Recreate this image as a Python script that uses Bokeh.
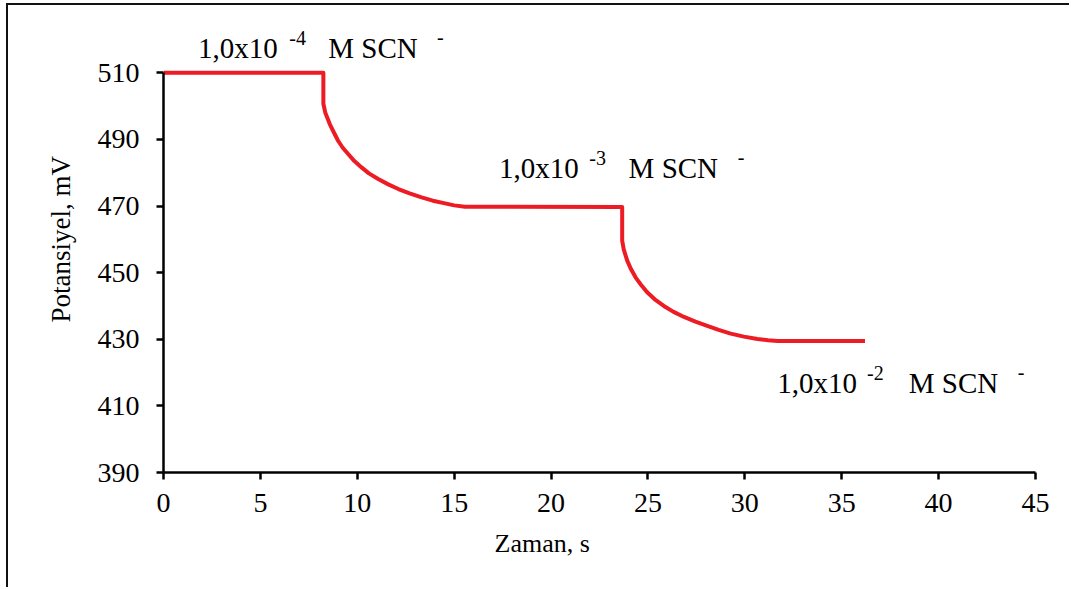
from bokeh.plotting import figure
from bokeh.models import Range1d, FixedTicker, Label, Title
from bokeh.embed import file_html
from bokeh.resources import INLINE

# ---- data ----
time_s = [0, 8.25, 8.25, 8.35, 8.58, 8.8, 9.01, 9.25, 9.53, 9.85, 10.22, 10.6, 11.08, 11.6,
          12.12, 12.7, 13.32, 13.9, 14.53, 15.0, 15.56,
          23.67, 23.67, 23.75, 23.93, 24.13, 24.36, 24.65, 24.96, 25.35, 25.82, 26.3, 26.86,
          27.45, 28.06, 28.65, 29.27, 29.95, 30.65, 31.2, 31.69, 36.2]
potential_mv = [510, 510, 500.7, 498.0, 494.6, 492.0, 489.6, 487.5, 485.6, 483.5, 481.6, 479.8,
                478.1, 476.5, 475.1, 473.8, 472.6, 471.6, 470.8, 470.2, 469.8,
                469.7, 459.6, 457.0, 453.6, 451.0, 448.6, 446.3, 444.1, 442.0, 440.0, 438.3,
                436.7, 435.3, 434.0, 432.8, 431.7, 430.8, 430.1, 429.7, 429.5, 429.5]

x_ticks = [0, 5, 10, 15, 20, 25, 30, 35, 40, 45]
y_ticks = [390, 410, 430, 450, 470, 490, 510]

ann_base = ["1,0x10", "1,0x10", "1,0x10"]
ann_exp = ["-4", "-3", "-2"]
ann_unit = ["M SCN", "M SCN", "M SCN"]
ann_ion = ["-", "-", "-"]

# annotation anchor positions (data coordinates)
ann_t_base = [3.84, 19.37, 33.73]
ann_t_exp = [6.92, 22.40, 36.74]
ann_t_unit = [10.81, 26.31, 40.77]
ann_t_ion = [14.29, 29.81, 44.25]
ann_v = [514.1, 478.1, 413.6]

x_title = "Zaman, s"
y_title = "Potansiyel, mV"

FONT = "Liberation Serif"

p = figure(width=1063, height=584,
           x_range=Range1d(0, 45), y_range=Range1d(390, 523),
           output_backend="svg", toolbar_location=None,
           min_border_left=155, min_border_right=36,
           min_border_top=24, min_border_bottom=117)
p.styles = {"margin-left": "6px", "margin-top": "3px",
            "border-left": "2px solid #111", "border-top": "2px solid #111"}

p.background_fill_color = "white"
p.border_fill_color = "white"
p.outline_line_color = None
p.xgrid.visible = False
p.ygrid.visible = False

for ax in (p.xaxis[0], p.yaxis[0]):
    ax.axis_line_width = 2.5
    ax.axis_line_color = "black"
    ax.major_tick_line_width = 2.5
    ax.major_tick_line_color = "black"
    ax.major_tick_out = 7
    ax.major_tick_in = 0
    ax.minor_tick_line_color = None
    ax.major_label_text_font = FONT
    ax.major_label_text_font_size = "28px"
    ax.major_label_text_color = "black"

p.xaxis[0].ticker = FixedTicker(ticks=x_ticks)
p.yaxis[0].ticker = FixedTicker(ticks=y_ticks)
p.yaxis[0].bounds = (390, 510)
p.xaxis[0].major_label_standoff = 14
p.yaxis[0].major_label_standoff = 17

# axis titles, placed off-centre as in the reference
p.add_layout(Title(text=x_title, align="left", offset=331, standoff=25,
                   text_font=FONT, text_font_size="26px", text_font_style="normal",
                   text_color="black"), "below")
p.add_layout(Title(text=y_title, align="left", offset=150, standoff=38,
                   text_font=FONT, text_font_size="27px", text_font_style="normal",
                   text_color="black"), "left")

p.line(time_s, potential_mv, line_color="#ED1C24", line_width=4,
       line_join="round", line_cap="butt")

for i in range(3):
    p.add_layout(Label(x=ann_t_base[i], y=ann_v[i], y_offset=11, text=ann_base[i],
                       text_font=FONT, text_font_size="29px", text_color="black",
                       text_align="center", text_baseline="alphabetic"))
    p.add_layout(Label(x=ann_t_exp[i], y=ann_v[i], y_offset=21, text=ann_exp[i],
                       text_font=FONT, text_font_size="20px", text_color="black",
                       text_align="center", text_baseline="alphabetic"))
    p.add_layout(Label(x=ann_t_unit[i], y=ann_v[i], y_offset=11, text=ann_unit[i],
                       text_font=FONT, text_font_size="29px", text_color="black",
                       text_align="center", text_baseline="alphabetic"))
    p.add_layout(Label(x=ann_t_ion[i], y=ann_v[i], y_offset=22, text=ann_ion[i],
                       text_font=FONT, text_font_size="20px", text_color="black",
                       text_align="center", text_baseline="alphabetic"))

open("out.html", "w").write(file_html(p, INLINE))
